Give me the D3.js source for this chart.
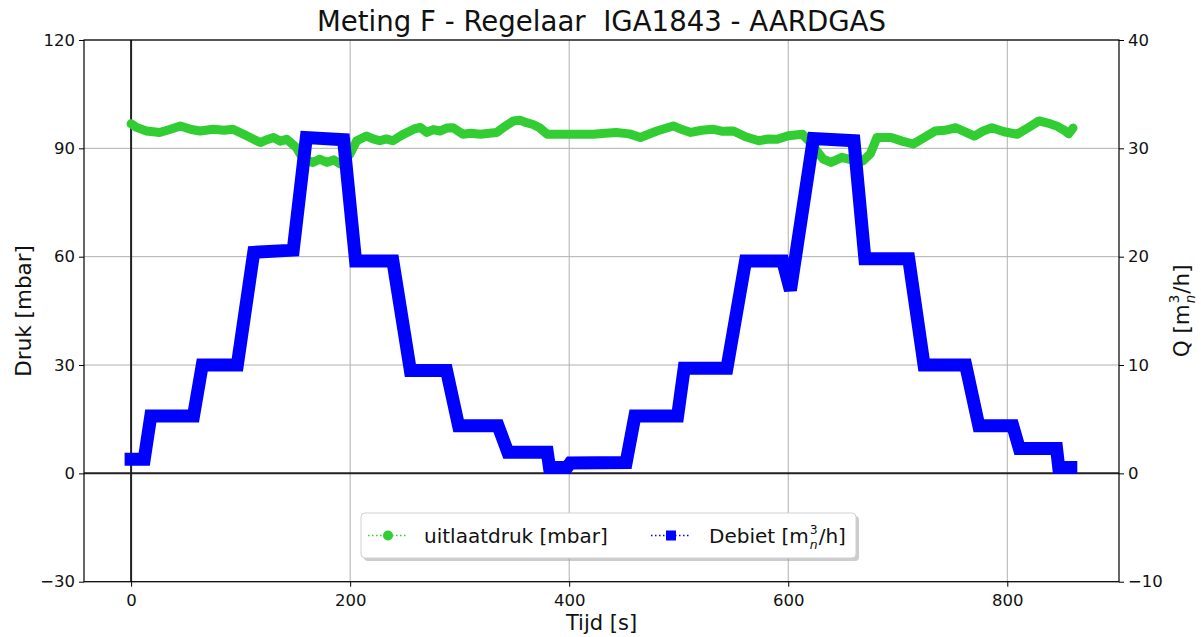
<!DOCTYPE html>
<html>
<head>
<meta charset="utf-8">
<script src="https://cdn.jsdelivr.net/npm/d3@7"></script>
<style>
  html, body { margin: 0; padding: 0; background: #fff; }
  svg { display: block; font-family: "DejaVu Sans", sans-serif; }
  text { white-space: pre; }
</style>
</head>
<body>
<svg id="chart" width="1201" height="637"></svg>
<script>
// ---------- DATA ----------
const titleText = "Meting F - Regelaar  IGA1843 - AARDGAS";
const xTicks = [0, 200, 400, 600, 800];
const leftTicks = [-30, 0, 30, 60, 90, 120];
const rightTicks = [-10, 0, 10, 20, 30, 40];

// uitlaatdruk [mbar] (left axis)
const pTime = [0, 5, 14, 26, 36, 45, 55, 63, 75, 85, 93, 106, 118, 124, 130, 136, 142, 151, 157, 166, 172, 179, 185, 191, 200, 206, 215, 221, 227, 233, 239, 248, 258, 264, 270, 276, 282, 288, 294, 303, 310, 319, 327, 334, 342, 349, 355, 361, 367, 373, 380, 392, 404, 422, 433, 443, 455, 465, 480, 495, 503, 511, 521, 531, 540, 550, 561, 573, 582, 590, 600, 613, 620, 626, 632, 639, 649, 658, 668, 675, 681, 694, 704, 714, 724, 734, 743, 753, 762, 770, 778, 786, 797, 809, 818, 829, 837, 845, 852, 856, 860];
const pVal = [96.8, 95.8, 94.8, 94.4, 95.3, 96.2, 95.2, 94.8, 95.3, 95.0, 95.3, 93.4, 91.6, 92.4, 93.0, 92.0, 92.5, 90.2, 87.1, 86.1, 87.0, 86.1, 86.8, 85.7, 88.5, 92.1, 93.4, 92.6, 92.1, 92.6, 92.1, 93.8, 95.3, 95.8, 94.4, 95.2, 94.8, 95.6, 95.7, 93.9, 94.2, 93.9, 94.2, 94.4, 96.2, 97.6, 97.8, 97.1, 96.6, 95.7, 93.9, 93.9, 93.9, 93.9, 94.2, 94.4, 94.0, 93.0, 94.8, 96.2, 95.2, 94.4, 95.0, 95.3, 94.7, 94.8, 93.2, 92.1, 92.6, 92.5, 93.5, 93.9, 91.6, 89.3, 87.0, 86.1, 87.5, 86.8, 86.5, 88.5, 93.0, 93.0, 92.0, 91.2, 93.0, 94.8, 95.0, 95.7, 94.5, 93.4, 94.8, 95.7, 94.6, 93.9, 95.5, 97.6, 97.0, 96.2, 95.0, 94.0, 95.6];

// Debiet [m3n/h] (right axis)
const qTime = [0, 12, 18, 57, 65, 97, 112, 148, 160, 194, 205, 239, 255, 288, 299, 335, 344, 380, 382, 398, 401, 452, 460, 499, 505, 544, 561, 595, 602, 623, 660, 670, 710, 724, 762, 774, 805, 811, 845, 847, 858];
const qVal = [1.3, 1.3, 5.3, 5.3, 10.0, 10.0, 20.4, 20.6, 31.0, 30.8, 19.6, 19.6, 9.5, 9.5, 4.4, 4.4, 1.95, 1.95, 0.55, 0.55, 0.95, 1.0, 5.3, 5.3, 9.7, 9.7, 19.6, 19.6, 16.9, 30.9, 30.7, 19.8, 19.8, 10.0, 10.0, 4.4, 4.4, 2.3, 2.3, 0.55, 0.55];

// ---------- LAYOUT ----------
const L = 84, R = 1119, T = 40, B = 581.7;
const green = "#32cd32", blue = "#0000ff";
const svg = d3.select("#chart");

const x = d3.scaleLinear().domain([-43, 902]).range([L, R]);
const yL = d3.scaleLinear().domain([-30, 120]).range([B, T]);
const yR = d3.scaleLinear().domain([-10, 40]).range([B, T]);

// grid
const grid = svg.append("g");
grid.selectAll(".gx").data(xTicks).join("line")
  .attr("x1", d => x(d)).attr("x2", d => x(d)).attr("y1", T).attr("y2", B)
  .attr("stroke", "#b0b0b0").attr("stroke-width", 1);
grid.selectAll(".gy").data(leftTicks).join("line")
  .attr("x1", L).attr("x2", R).attr("y1", d => yL(d)).attr("y2", d => yL(d))
  .attr("stroke", "#b0b0b0").attr("stroke-width", 1);

// zero lines
svg.append("line").attr("x1", L).attr("x2", R).attr("y1", yL(0)).attr("y2", yL(0))
  .attr("stroke", "#222").attr("stroke-width", 2);
svg.append("line").attr("x1", x(0)).attr("x2", x(0)).attr("y1", T).attr("y2", B)
  .attr("stroke", "#222").attr("stroke-width", 2);

// series
const pData = pTime.map((t, i) => [t, pVal[i]]);
const qData = qTime.map((t, i) => [t, qVal[i]]);

svg.append("path").datum(pData)
  .attr("d", d3.line().x(d => x(d[0])).y(d => yL(d[1])))
  .attr("fill", "none").attr("stroke", green).attr("stroke-width", 9)
  .attr("stroke-linejoin", "round").attr("stroke-linecap", "round");

svg.append("path").datum(qData)
  .attr("d", d3.line().x(d => x(d[0])).y(d => yR(d[1])))
  .attr("fill", "none").attr("stroke", blue).attr("stroke-width", 13)
  .attr("stroke-linejoin", "miter").attr("stroke-miterlimit", 2)
  .attr("stroke-linecap", "square");

// axes
const tickFont = "16.5px";
const ax = svg.append("g").attr("transform", `translate(0,${B})`)
  .call(d3.axisBottom(x).tickValues(xTicks).tickSize(5).tickPadding(4).tickFormat(d3.format("d")));
const ayl = svg.append("g").attr("transform", `translate(${L},0)`)
  .call(d3.axisLeft(yL).tickValues(leftTicks).tickSize(5).tickPadding(4).tickFormat(d3.format("d")));
const ayr = svg.append("g").attr("transform", `translate(${R},0)`)
  .call(d3.axisRight(yR).tickValues(rightTicks).tickSize(5).tickPadding(4).tickFormat(d3.format("d")));
[ax, ayl, ayr].forEach(g => {
  g.select(".domain").remove();
  g.selectAll("line").attr("stroke", "#000");
  g.selectAll("text").attr("fill", "#111").style("font-size", tickFont).style("font-family", "DejaVu Sans");
});
ax.selectAll("text").attr("dy", "0.95em");

// frame
svg.append("rect").attr("x", L).attr("y", T).attr("width", R - L).attr("height", B - T)
  .attr("fill", "none").attr("stroke", "#000").attr("stroke-width", 1.2);

// title & labels
svg.append("text").attr("x", (L + R) / 2).attr("y", 31).attr("text-anchor", "middle")
  .style("font-size", "27.6px").attr("fill", "#111").text(titleText);
svg.append("text").attr("x", (L + R) / 2).attr("y", 630).attr("text-anchor", "middle")
  .style("font-size", "21px").attr("fill", "#111").text("Tijd [s]");
svg.append("text").attr("transform", `translate(31,${(T + B) / 2}) rotate(-90)`)
  .attr("text-anchor", "middle").style("font-size", "21.5px").attr("fill", "#111").text("Druk [mbar]");

// composite label "X [m^3_n/h]"
function unitLabel(g, prefix, size) {
  const t1 = g.append("text").style("font-size", size + "px").attr("fill", "#111").text(prefix + " [m");
  const w1 = t1.node().getComputedTextLength();
  const sm = size * 0.62;
  const sup = g.append("text").attr("x", w1 + 1).attr("y", -size * 0.46).style("font-size", sm + "px").attr("fill", "#111").text("3");
  const sub = g.append("text").attr("x", w1 + 1).attr("y", size * 0.3).style("font-size", sm + "px").style("font-style", "italic").attr("fill", "#111").text("n");
  const w2 = Math.max(sup.node().getComputedTextLength(), sub.node().getComputedTextLength());
  const t3 = g.append("text").attr("x", w1 + w2 + 2).style("font-size", size + "px").attr("fill", "#111").text("/h]");
  return w1 + w2 + 2 + t3.node().getComputedTextLength();
}
const rl = svg.append("g");
const rlw = unitLabel(rl, "Q", 21.5);
rl.attr("transform", `translate(1189,${(T + B) / 2 + rlw / 2}) rotate(-90)`);

// legend
const lgX = 361, lgY = 513, lgW = 495, lgH = 45;
const lg = svg.append("g");
lg.append("rect").attr("x", lgX + 3).attr("y", lgY + 3).attr("width", lgW).attr("height", lgH)
  .attr("rx", 4).attr("fill", "#999").attr("opacity", 0.5);
lg.append("rect").attr("x", lgX).attr("y", lgY).attr("width", lgW).attr("height", lgH)
  .attr("rx", 4).attr("fill", "#fff").attr("stroke", "#d0d0d0").attr("stroke-width", 1);
const cy = lgY + lgH / 2;
lg.append("line").attr("x1", 368).attr("x2", 408).attr("y1", cy).attr("y2", cy)
  .attr("stroke", green).attr("stroke-width", 1.5).attr("stroke-dasharray", "1.5,2.5");
lg.append("circle").attr("cx", 388).attr("cy", cy).attr("r", 5).attr("fill", green);
lg.append("text").attr("x", 424).attr("y", cy + 7.2).style("font-size", "20px").attr("fill", "#111").text("uitlaatdruk [mbar]");
lg.append("line").attr("x1", 651).attr("x2", 691).attr("y1", cy).attr("y2", cy)
  .attr("stroke", blue).attr("stroke-width", 1.5).attr("stroke-dasharray", "1.5,2.5");
lg.append("rect").attr("x", 671 - 5).attr("y", cy - 5).attr("width", 10).attr("height", 10).attr("fill", blue);
const lg2 = lg.append("g").attr("transform", `translate(709,${cy + 7.2})`);
unitLabel(lg2, "Debiet", 20);
</script>
</body>
</html>
